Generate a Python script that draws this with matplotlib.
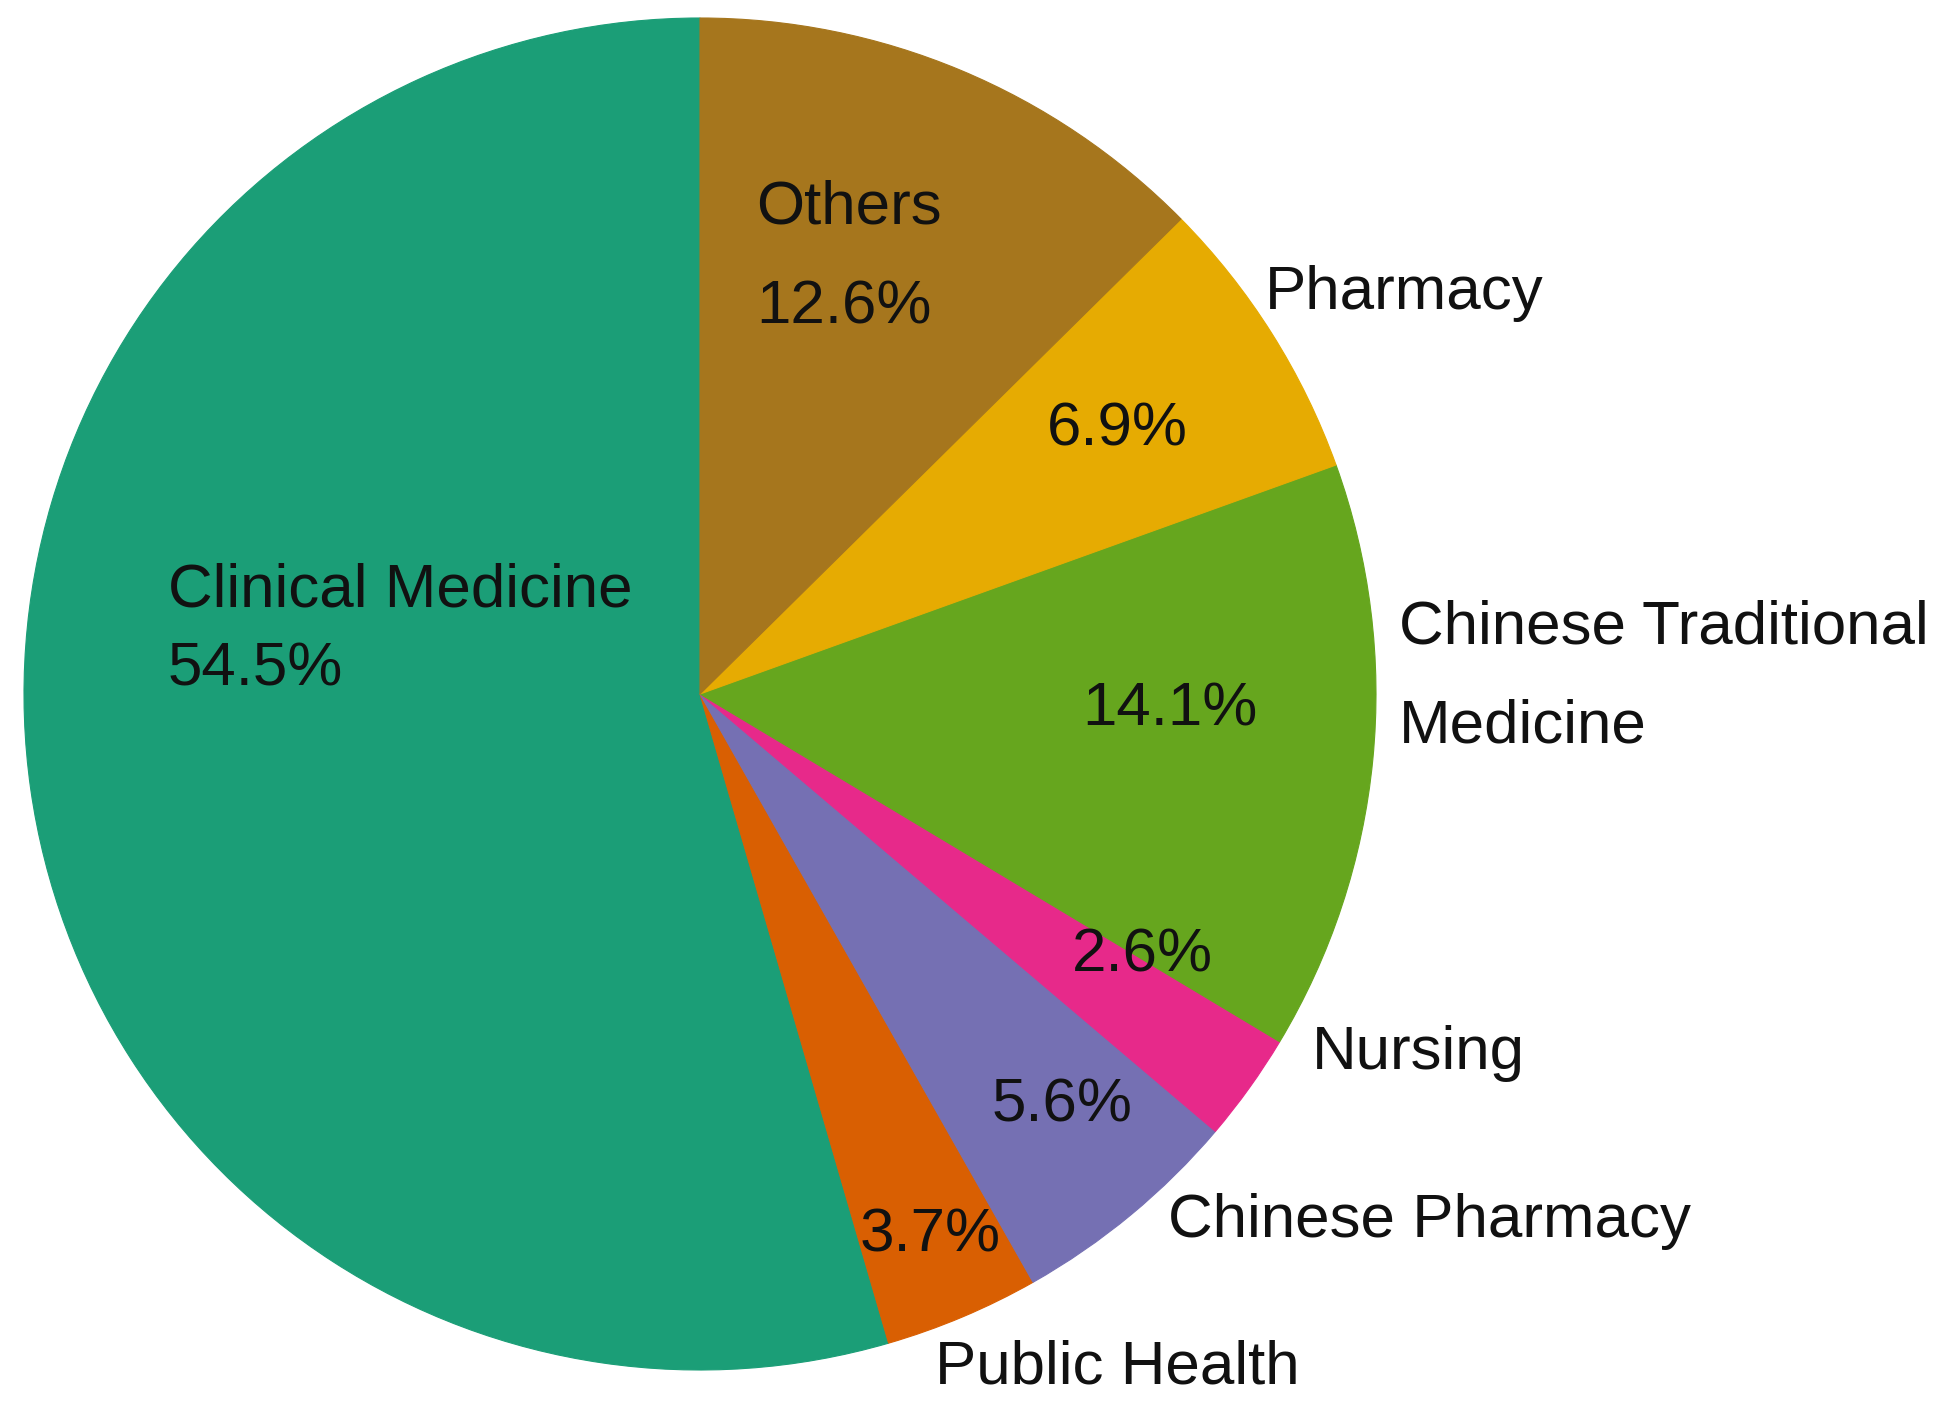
import matplotlib
matplotlib.use("Agg")
import matplotlib.pyplot as plt

# Share of respondents by major (%), drawn counter-clockwise from 12 o'clock
majors = ["Clinical Medicine", "Public Health", "Chinese Pharmacy", "Nursing",
          "Chinese Traditional\nMedicine", "Pharmacy", "Others"]
shares = [54.5, 3.7, 5.6, 2.6, 14.1, 6.9, 12.6]
colors = ["#1b9e77", "#d95f02", "#7570b3", "#e7298a", "#66a61e", "#e6ab02", "#a6761d"]

W, H = 1954, 1405
plt.rcParams["font.family"] = ["Liberation Sans", "DejaVu Sans"]
fig = plt.figure(figsize=(W / 100, H / 100), dpi=100)

# pie occupies a square box: centre (700, 694) px, radius 676 px
cx, cy, r = 700, 694, 676
ax = fig.add_axes([(cx - r) / W, (H - cy - r) / H, 2 * r / W, 2 * r / H])
wedges, _ = ax.pie(shares, colors=colors, startangle=90, counterclock=True,
                   radius=1, wedgeprops=dict(linewidth=0.8))
for w in wedges:
    w.set_edgecolor(w.get_facecolor())
ax.set_aspect("auto")
ax.set_xlim(-1, 1)
ax.set_ylim(-1, 1)
ax.axis("off")

FS = 44.6
pct = {m: f"{v:.1f}%" for m, v in zip(majors, shares)}


def put(x, y, s):
    # x = left edge, y = baseline, both in pixels from the top-left corner
    fig.text(x / W, 1 - y / H, s, fontsize=FS, ha="left", va="baseline",
             color="#111111")


# Clinical Medicine
put(168, 607, "Clinical Medicine")
put(168, 685, pct["Clinical Medicine"])
# Others
put(756, 224, "Others")
put(756, 324, pct["Others"])
# Pharmacy
put(1265, 309, "Pharmacy")
put(1047, 445, pct["Pharmacy"])
# Chinese Traditional Medicine
put(1399, 643, "Chinese Traditional")
put(1399, 742, "Medicine")
put(1082, 725, pct["Chinese Traditional\nMedicine"])
# Nursing
put(1072, 972, pct["Nursing"])
put(1312, 1069, "Nursing")
# Chinese Pharmacy
put(992, 1122, pct["Chinese Pharmacy"])
put(1168, 1237, "Chinese Pharmacy")
# Public Health
put(860, 1252, pct["Public Health"])
put(935, 1383, "Public Health")

fig.savefig("out.png", dpi=100, facecolor="white")
